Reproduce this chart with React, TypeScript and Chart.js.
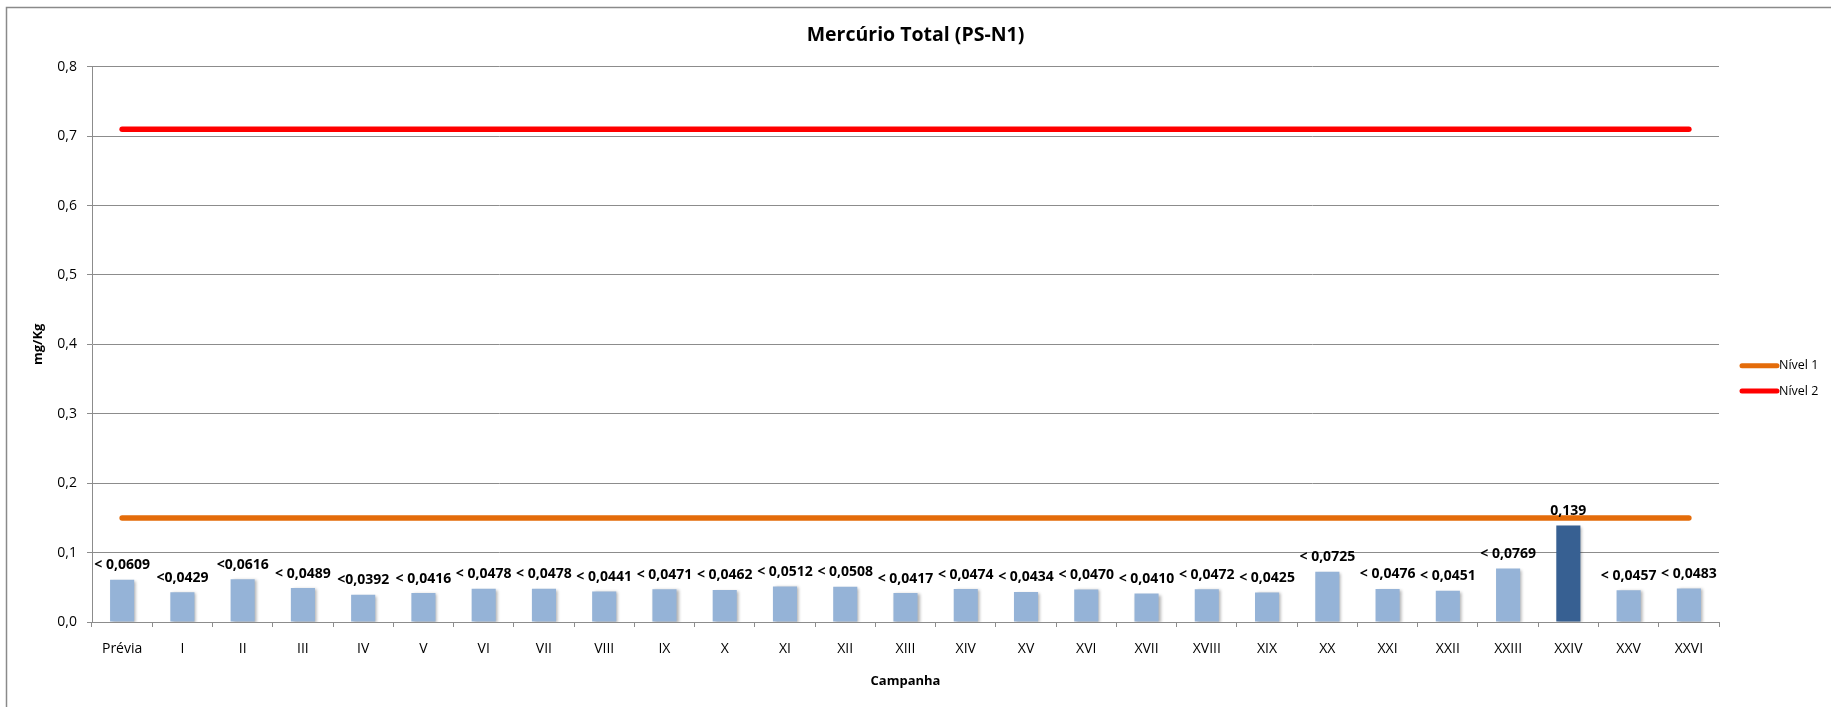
import React, { useEffect, useRef } from "react";
import { Chart, registerables } from "chart.js";

Chart.register(...registerables);

const TITLE = "Mercúrio Total (PS-N1)";
const X_TITLE = "Campanha";
const Y_TITLE = "mg/Kg";

const categories = [
  "Prévia", "I", "II", "III", "IV", "V", "VI", "VII", "VIII", "IX", "X",
  "XI", "XII", "XIII", "XIV", "XV", "XVI", "XVII", "XVIII", "XIX", "XX",
  "XXI", "XXII", "XXIII", "XXIV", "XXV", "XXVI",
];

const mercurio = [
  0.0609, 0.0429, 0.0616, 0.0489, 0.0392, 0.0416, 0.0478, 0.0478, 0.0441,
  0.0471, 0.0462, 0.0512, 0.0508, 0.0417, 0.0474, 0.0434, 0.0470, 0.0410,
  0.0472, 0.0425, 0.0725, 0.0476, 0.0451, 0.0769, 0.139, 0.0457, 0.0483,
];

const valueLabels = [
  "< 0,0609", "<0,0429", "<0,0616", "< 0,0489", "<0,0392", "< 0,0416",
  "< 0,0478", "< 0,0478", "< 0,0441", "< 0,0471", "< 0,0462", "< 0,0512",
  "< 0,0508", "< 0,0417", "< 0,0474", "< 0,0434", "< 0,0470", "< 0,0410",
  "< 0,0472", "< 0,0425", "< 0,0725", "< 0,0476", "< 0,0451", "< 0,0769",
  "0,139", "< 0,0457", "< 0,0483",
];

const nivel1 = [
  0.15, 0.15, 0.15, 0.15, 0.15, 0.15, 0.15, 0.15, 0.15, 0.15, 0.15, 0.15,
  0.15, 0.15, 0.15, 0.15, 0.15, 0.15, 0.15, 0.15, 0.15, 0.15, 0.15, 0.15,
  0.15, 0.15, 0.15,
];

const nivel2 = [
  0.71, 0.71, 0.71, 0.71, 0.71, 0.71, 0.71, 0.71, 0.71, 0.71, 0.71, 0.71,
  0.71, 0.71, 0.71, 0.71, 0.71, 0.71, 0.71, 0.71, 0.71, 0.71, 0.71, 0.71,
  0.71, 0.71, 0.71,
];

const yTicks = ["0,0", "0,1", "0,2", "0,3", "0,4", "0,5", "0,6", "0,7", "0,8"];

const FONT = "'Open Sans', 'Noto Sans', sans-serif";
const GRID = "#8c8c8c";
const LIGHT_BAR = "#95b3d7";
const DARK_BAR = "#376092";

const W = 1831;
const H = 707;

const frame = {
  id: "frame",
  beforeDraw(chart: any) {
    const ctx = chart.ctx;
    ctx.save();
    ctx.fillStyle = "#ffffff";
    ctx.fillRect(0, 0, chart.width, chart.height);
    ctx.strokeStyle = "#8a8a8a";
    ctx.lineWidth = 1.5;
    ctx.beginPath();
    ctx.moveTo(6.5, chart.height + 5);
    ctx.lineTo(6.5, 7.5);
    ctx.lineTo(chart.width + 5, 7.5);
    ctx.stroke();
    ctx.restore();
  },
};

const barShadow = {
  id: "barShadow",
  beforeDatasetDraw(chart: any, args: any) {
    if (args.index !== 0) return;
    const ctx = chart.ctx;
    ctx.save();
    ctx.shadowColor = "rgba(0,0,0,0.3)";
    ctx.shadowBlur = 3;
    ctx.shadowOffsetX = 2;
    ctx.shadowOffsetY = 1;
  },
  afterDatasetDraw(chart: any, args: any) {
    if (args.index !== 0) return;
    chart.ctx.restore();
  },
};

const dataLabels = {
  id: "dataLabels",
  afterDatasetsDraw(chart: any) {
    const ctx = chart.ctx;
    const meta = chart.getDatasetMeta(0);
    ctx.save();
    ctx.font = `bold 14px ${FONT}`;
    ctx.fillStyle = "#000";
    ctx.textAlign = "center";
    ctx.textBaseline = "middle";
    meta.data.forEach((bar: any, i: number) => {
      ctx.fillText(valueLabels[i], bar.x, bar.y - 14.5);
    });
    ctx.restore();
  },
};

const sideLegend = {
  id: "sideLegend",
  afterDraw(chart: any) {
    const ctx = chart.ctx;
    const area = chart.chartArea;
    const x0 = area.right + 23;
    const lineLen = 35;
    const startY = 365.7;
    const gap = 25.3;
    ctx.save();
    ctx.font = `12.5px ${FONT}`;
    ctx.textAlign = "left";
    ctx.textBaseline = "middle";
    const lines = chart.data.datasets.filter((d: any) => d.type === "line");
    lines.forEach((d: any, i: number) => {
      const y = startY + i * gap;
      ctx.strokeStyle = d.borderColor;
      ctx.lineWidth = 5;
      ctx.lineCap = "round";
      ctx.beginPath();
      ctx.moveTo(x0, y);
      ctx.lineTo(x0 + lineLen, y);
      ctx.stroke();
      ctx.fillStyle = "#000";
      ctx.fillText(d.label, x0 + lineLen + 2, y);
    });
    ctx.restore();
  },
};

export default function App() {
  const ref = useRef<HTMLCanvasElement | null>(null);

  useEffect(() => {
    if (!ref.current) return;
    const chart = new Chart(ref.current, {
      type: "bar",
      data: {
        labels: categories,
        datasets: [
          {
            type: "bar",
            label: "Mercúrio Total",
            data: mercurio,
            backgroundColor: (c: any) =>
              valueLabels[c.dataIndex]?.startsWith("<") ? LIGHT_BAR : DARK_BAR,
            barPercentage: 0.4,
            categoryPercentage: 1,
            order: 2,
          },
          {
            type: "line",
            label: "Nível 1",
            data: nivel1,
            borderColor: "#e46c0a",
            backgroundColor: "#e46c0a",
            borderWidth: 5.5,
            borderCapStyle: "round",
            pointRadius: 0,
            pointHoverRadius: 0,
            fill: false,
            order: 1,
          },
          {
            type: "line",
            label: "Nível 2",
            data: nivel2,
            borderColor: "#ff0000",
            backgroundColor: "#ff0000",
            borderWidth: 5.5,
            borderCapStyle: "round",
            pointRadius: 0,
            pointHoverRadius: 0,
            fill: false,
            order: 0,
          },
        ],
      },
      options: {
        responsive: false,
        animation: false,
        events: [],
        layout: { padding: 0 },
        plugins: {
          legend: { display: false },
          tooltip: { enabled: false },
          title: {
            display: true,
            text: TITLE,
            color: "#000",
            font: { family: FONT, size: 19.5, weight: "bold" },
            padding: { top: 23.3, bottom: 20 },
          },
        },
        scales: {
          x: {
            grid: {
              display: true,
              drawOnChartArea: false,
              drawTicks: true,
              tickLength: 5,
              color: GRID,
              offset: true,
            },
            border: { display: true, color: GRID, width: 1 },
            ticks: {
              color: "#000",
              font: { family: FONT, size: 14 },
              padding: 14,
              maxRotation: 0,
              autoSkip: false,
            },
            title: {
              display: true,
              text: X_TITLE,
              color: "#000",
              font: { family: FONT, size: 13, weight: "bold" },
              padding: { top: 0, bottom: 18.2 },
            },
            afterFit: (s: any) => {
              s.height = 85;
            },
          },
          y: {
            min: 0,
            max: 0.8,
            ticks: {
              stepSize: 0.1,
              color: "#000",
              font: { family: FONT, size: 14 },
              padding: 10,
              callback: (_v: any, i: number) => yTicks[i],
            },
            grid: {
              color: GRID,
              tickLength: 5,
              drawTicks: true,
            },
            border: { display: true, color: GRID, width: 1 },
            title: {
              display: true,
              text: Y_TITLE,
              color: "#000",
              font: { family: FONT, size: 13, weight: "bold" },
              padding: { top: 30.2, bottom: 0 },
            },
            afterFit: (s: any) => {
              s.width = 92;
            },
          },
          legendSpace: {
            type: "linear",
            position: "right",
            display: true,
            min: 0,
            max: 1,
            grid: { display: false, drawTicks: false },
            border: { display: false },
            ticks: { display: false },
            afterFit: (s: any) => {
              s.width = 112;
            },
          },
        },
      } as any,
      plugins: [frame, barShadow, dataLabels, sideLegend],
    });
    return () => chart.destroy();
  }, []);

  return (
    <div style={{ position: "fixed", left: 0, top: 0, width: W, height: H, background: "#fff" }}>
      <canvas ref={ref} width={W} height={H} style={{ width: W, height: H, display: "block" }} />
    </div>
  );
}
